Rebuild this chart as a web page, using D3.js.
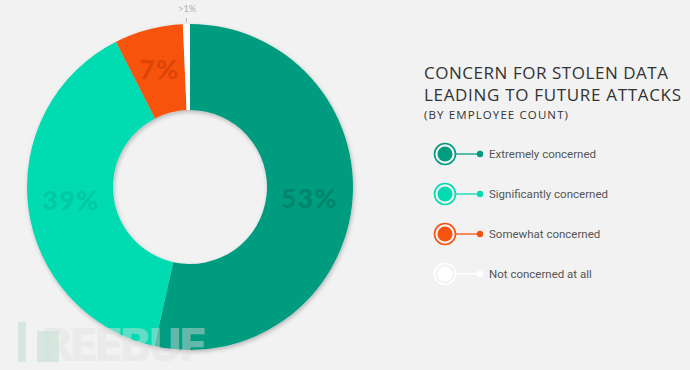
<!DOCTYPE html>
<html>
<head>
<meta charset="utf-8">
<script src="https://cdn.jsdelivr.net/npm/d3@7"></script>
<style>
  body { margin: 0; background: #f2f2f2; }
  svg { display: block; }
</style>
</head>
<body>
<div id="chart"></div>
<script>
// data
var categories = ["Extremely concerned", "Significantly concerned", "Somewhat concerned", "Not concerned at all"];
var values = [53.5, 39, 6.8, 0.7];
var valueLabels = ["53%", "39%", "7%", ">1%"];
var colors = ["#009c80", "#00dbb2", "#f75310", "#ffffff"];
var labelColors = ["#00866c", "#00c9a2", "#dc4508", "#aaaaaa"];
var titleLines = ["CONCERN FOR STOLEN DATA", "LEADING TO FUTURE ATTACKS"];
var subTitle = "(BY EMPLOYEE COUNT)";

var width = 690, height = 370;
var cx = 190, cy = 187, outerR = 163, innerR = 77;

var svg = d3.select("#chart")
  .append("svg")
  .attr("width", width)
  .attr("height", height);

svg.append("rect").attr("width", width).attr("height", height).attr("fill", "#f2f2f2");

// soft shadow under the donut
var defs = svg.append("defs");
var f = defs.append("filter").attr("id", "shadow").attr("x", "-10%").attr("y", "-10%").attr("width", "120%").attr("height", "120%");
f.append("feDropShadow").attr("dx", 1).attr("dy", 2).attr("stdDeviation", 2).attr("flood-color", "#000").attr("flood-opacity", 0.25);

var pie = d3.pie().sort(null).value(function(d) { return d; });
var arcs = pie(values);
var arc = d3.arc().innerRadius(innerR).outerRadius(outerR);

var g = svg.append("g").attr("transform", "translate(" + cx + "," + cy + ")");

g.append("g")
  .attr("filter", "url(#shadow)")
  .selectAll("path")
  .data(arcs)
  .enter()
  .append("path")
  .attr("d", arc)
  .attr("fill", function(d, i) { return colors[i]; });

// big labels inside slices
var bigLabelPos = d3.arc().innerRadius(120).outerRadius(120);
g.selectAll(".big")
  .data(arcs.slice(0, 3))
  .enter()
  .append("text")
  .attr("class", "big")
  .attr("transform", function(d) {
    var c = bigLabelPos.centroid(d);
    return "translate(" + c[0] + "," + c[1] + ")";
  })
  .attr("text-anchor", "middle")
  .attr("dy", "0.3em")
  .attr("font-family", "Lato, 'Open Sans', sans-serif")
  .attr("font-weight", 900)
  .attr("font-size", 27)
  .attr("letter-spacing", 1.2)
  .attr("fill", function(d, i) { return labelColors[i]; })
  .text(function(d, i) { return valueLabels[i]; });

// tiny slice label outside
var tiny = arcs[3];
var tinyAngle = (tiny.startAngle + tiny.endAngle) / 2;
var tickIn = d3.pointRadial(tinyAngle, outerR + 2);
var tickOut = d3.pointRadial(tinyAngle, outerR + 6);
g.append("line")
  .attr("x1", tickIn[0]).attr("y1", tickIn[1])
  .attr("x2", tickOut[0]).attr("y2", tickOut[1])
  .attr("stroke", "#b5b5b5").attr("stroke-width", 1);
var tickText = d3.pointRadial(tinyAngle, outerR + 12);
g.append("text")
  .attr("x", tickText[0] + 1).attr("y", tickText[1])
  .attr("text-anchor", "middle")
  .attr("font-family", "Lato, sans-serif")
  .attr("font-size", 9)
  .attr("fill", "#b0b0b0")
  .text(valueLabels[3]);

// watermark
svg.append("text")
  .attr("x", 40).attr("y", 361)
  .attr("font-family", "'DejaVu Sans', sans-serif")
  .attr("font-weight", "bold")
  .attr("font-size", 44)
  .attr("fill", "#e0e0e0")
  .attr("fill-opacity", 0.45)
  .attr("textLength", 168)
  .text("REEBUF");
svg.append("rect").attr("x", 18).attr("y", 322).attr("width", 8).attr("height", 40).attr("fill", "#cfe3da").attr("opacity", 0.8);
svg.append("rect").attr("x", 37).attr("y", 331).attr("width", 22).attr("height", 31).attr("fill", "#cfe3da").attr("opacity", 0.8);

// title
var titleWidths = [244, 257];
var title = svg.append("g").attr("font-family", "'Open Sans', Lato, sans-serif").attr("fill", "#333");
title.selectAll(".t")
  .data(titleLines)
  .enter()
  .append("text")
  .attr("x", 424)
  .attr("y", function(d, i) { return 79 + i * 22; })
  .attr("font-size", 17)
  .attr("textLength", function(d, i) { return titleWidths[i]; })
  .text(function(d) { return d; });
title.append("text")
  .attr("x", 424).attr("y", 119)
  .attr("font-size", 11.5)
  .attr("textLength", 144)
  .text(subTitle);

// legend
var legendY = d3.scalePoint().domain(categories).range([154, 274]);
var leg = svg.append("g").selectAll("g")
  .data(categories)
  .enter()
  .append("g")
  .attr("transform", function(d) { return "translate(445," + legendY(d) + ")"; });

leg.append("line")
  .attr("x1", 11).attr("x2", 35)
  .attr("stroke", function(d, i) { return colors[i]; })
  .attr("stroke-width", 1.3);
leg.append("circle")
  .attr("r", 10.5)
  .attr("fill", "none")
  .attr("stroke", function(d, i) { return colors[i]; })
  .attr("stroke-width", 1.6);
leg.append("circle")
  .attr("r", 7.5)
  .attr("fill", function(d, i) { return colors[i]; });
leg.append("circle")
  .attr("cx", 35)
  .attr("r", 3.2)
  .attr("fill", function(d, i) { return colors[i]; });
leg.append("text")
  .attr("x", 44)
  .attr("dy", "0.35em")
  .attr("font-family", "Roboto, sans-serif")
  .attr("font-size", 11.5)
  .attr("fill", "#555")
  .text(function(d) { return d; });
</script>
</body>
</html>
